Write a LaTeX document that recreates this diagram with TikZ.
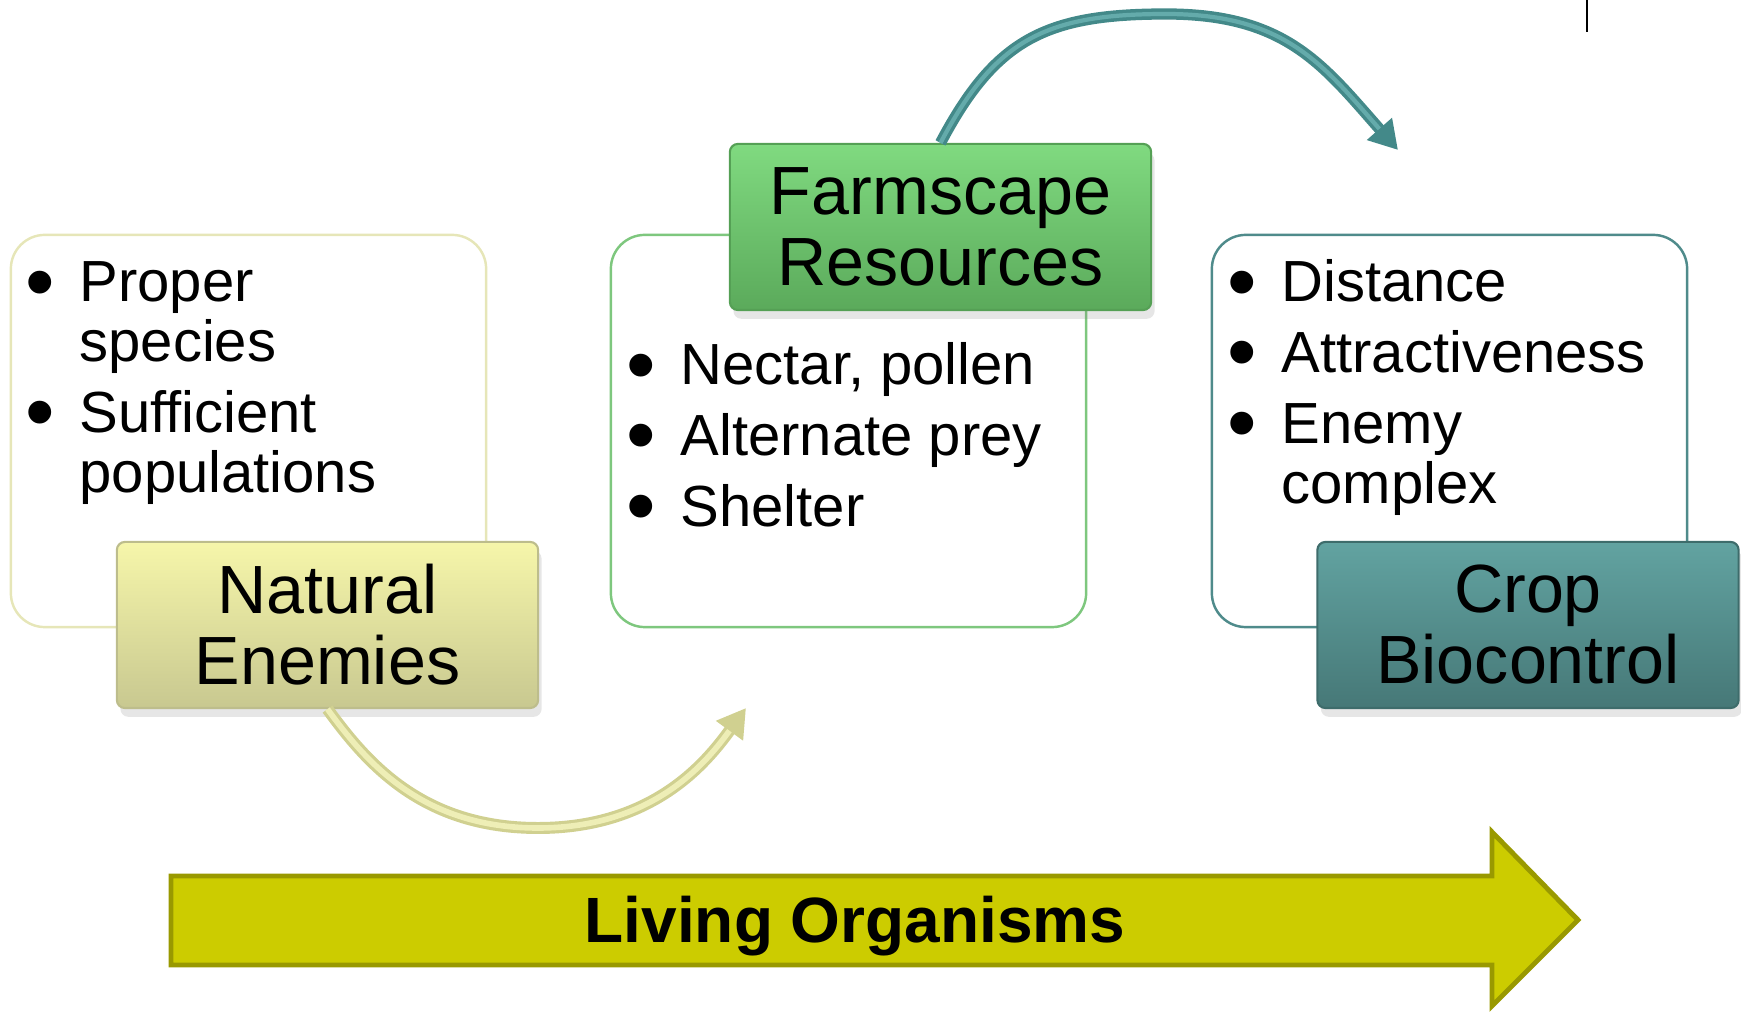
\documentclass[tikz,border=0pt]{standalone}
\usepackage{fontspec}
\setmainfont{Liberation Sans}
\usetikzlibrary{arrows.meta,shadows}
\definecolor{neline}{HTML}{E6E6B8}
\definecolor{nelight}{HTML}{F6F6AA}
\definecolor{nedark}{HTML}{C8C890}
\definecolor{needge}{HTML}{BDBD8C}
\definecolor{frline}{HTML}{7EC77E}
\definecolor{frlight}{HTML}{80DA80}
\definecolor{frdark}{HTML}{5BAA5B}
\definecolor{fredge}{HTML}{55A055}
\definecolor{crline}{HTML}{4F8B8B}
\definecolor{crlight}{HTML}{62A3A1}
\definecolor{crdark}{HTML}{467877}
\definecolor{credge}{HTML}{3E6C6B}
\definecolor{uparr}{HTML}{438989}
\definecolor{uphi}{HTML}{64ABAB}
\definecolor{lowarr}{HTML}{D0D090}
\definecolor{lowhi}{HTML}{EEEEB6}
\definecolor{livfill}{HTML}{CCCC00}
\definecolor{livedge}{HTML}{999900}
\newcommand\bul{\makebox[15.3pt][l]{\raisebox{-0.14em}{\scalebox{1.45}{\textbullet}}}}
\begin{document}
\begin{tikzpicture}[x=0.01cm, y=-0.01cm, >={Triangle[length=8pt,width=9pt]},
    font=\fontsize{16.5}{17}\selectfont, line join=round,
    frame/.style={draw, line width=0.7pt, rounded corners=0.34cm, minimum width=\bw, minimum height=\bh},
    head/.style={draw, line width=0.6pt, rounded corners=0.08cm, minimum width=\hw, minimum height=\hh,
        align=center, font=\fontsize{19.4}{20.2}\selectfont,
        drop shadow={shadow xshift=1pt, shadow yshift=-2.5pt, opacity=.2}},
    list/.style={anchor=base west, inner sep=0pt},
    uparrow/.style={draw=uparr, line width=3.2pt, ->, postaction={draw=uphi, line width=1.2pt, shorten >=8pt, -}},
    lowarrow/.style={draw=lowarr, line width=3.4pt, ->, postaction={draw=lowhi, line width=1.6pt, shorten >=8pt, -}}]
    \def\bw{4.75cm} \def\bh{3.92cm} % outer boxes
    \def\hw{4.21cm} \def\hh{1.66cm} % title boxes
    \useasboundingbox (0,0) rectangle (1741,1013);
    % outer boxes
    \node[frame, draw=neline] (nebox) at (248.5,431) {};
    \node[frame, draw=frline] (frbox) at (848.5,431) {};
    \node[frame, draw=crline] (crbox) at (1449.5,431) {};
    % lists
    \node[list] (nelist) at (25,302) {\begin{tabular}[t]{@{}l@{}l@{}}\bul&Proper\\&species\\[3.1pt]\bul&Sufficient\\&populations\end{tabular}};
    \node[list] (frlist) at (626,385) {\begin{tabular}[t]{@{}l@{}l@{}}\bul&Nectar, pollen\\[3.1pt]\bul&Alternate prey\\[3.1pt]\bul&Shelter\end{tabular}};
    \node[list] (crlist) at (1227,302) {\begin{tabular}[t]{@{}l@{}l@{}}\bul&Distance\\[3.1pt]\bul&Attractiveness\\[3.1pt]\bul&Enemy\\&complex\end{tabular}};
    % title boxes
    \node[head, top color=nelight, bottom color=nedark, draw=needge] (ne) at (327.5,625) {Natural\\Enemies};
    \node[head, top color=frlight, bottom color=frdark, draw=fredge] (fr) at (940.5,227) {Farmscape\\Resources};
    \node[head, top color=crlight, bottom color=crdark, draw=credge] (cr) at (1528,625) {Crop\\Biocontrol};
    % curved arrows
    \coordinate (nebot) at (538,828);
    \coordinate (netip) at (746,708);
    \draw[lowarrow] (ne.south) .. controls +(40,55) and +(-115,0) .. (nebot) .. controls +(115,0) and +(-40,55) .. (netip);
    \coordinate (frtop) at (1166,14);
    \coordinate (frtip) at (1398,150);
    \draw[uparrow] (fr.north) .. controls +(55,-104) and +(-120,0) .. (frtop) .. controls +(120,0) and +(-75,-85) .. (frtip);
    % big arrow
    \draw[fill=livfill, draw=livedge, line width=1.4pt, line join=miter] (171,876) -- (1492,876) -- (1492,832) -- (1578,920) -- (1492,1006) -- (1492,965) -- (171,965) -- cycle;
    \node[font=\bfseries\fontsize{18.2}{20}\selectfont, anchor=base] (living) at (855,943) {Living Organisms};
    \draw[line width=0.6pt] (1587,0) -- (1587,32);
\end{tikzpicture}
\end{document}
